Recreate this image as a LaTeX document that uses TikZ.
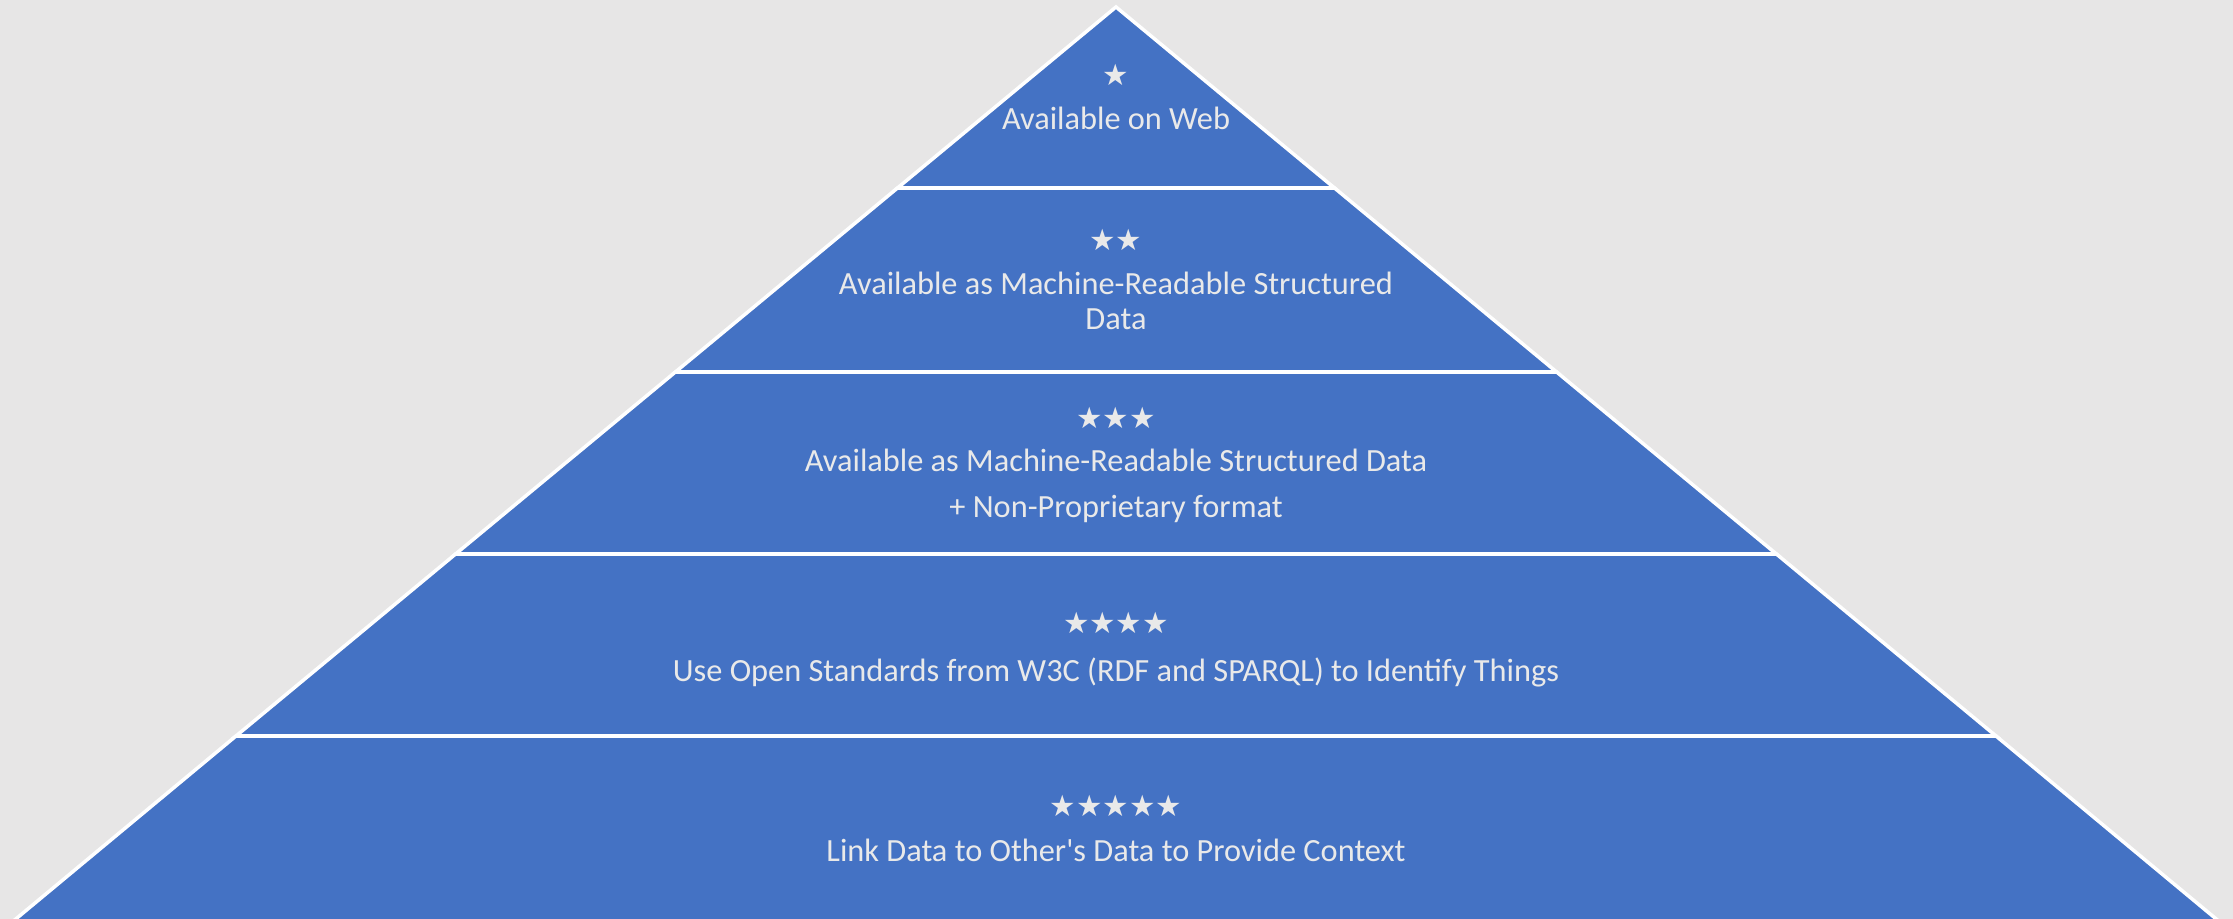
\documentclass[tikz,border=0pt]{standalone}
\usepackage{fontspec}
\newfontfamily\capfont{Carlito}
\newfontfamily\starfont{DejaVu Sans}
\usepackage{tikz}

\definecolor{bandblue}{HTML}{4472C4}
\definecolor{pagegray}{HTML}{E7E6E6}
\definecolor{textgray}{HTML}{E9E9E9}

\tikzset{
  band/.style={fill=bandblue, draw=white, line width=1pt},
  stars/.style={text=textgray, inner sep=0pt, font=\starfont\fontsize{8.4}{8}\selectfont},
  caption/.style={text=textgray, inner sep=0pt, align=center, anchor=base,
    font=\capfont\fontsize{9.2}{10}\selectfont}
}

\begin{document}
\begin{tikzpicture}[x=0.01cm, y=-0.01cm]
    \fill[pagegray] (0, 0) rectangle (2233, 919);
    \clip (0, 0) rectangle (2233, 919);
    % bands, top to bottom
    \draw[band] (1116, 7) -- (1334.5, 188) -- (897.5, 188) -- cycle;
    \draw[band] (897.5, 188) -- (1334.5, 188) -- (1556.6, 372) -- (675.4, 372) -- cycle;
    \draw[band] (675.4, 372) -- (1556.6, 372) -- (1776.4, 554) -- (455.6, 554) -- cycle;
    \draw[band] (455.6, 554) -- (1776.4, 554) -- (1996, 736) -- (236, 736) -- cycle;
    \draw[band] (236, 736) -- (1996, 736) -- (2221, 923) -- (11, 923) -- cycle;
    % stars and captions (base = last line)
    \node[stars] (s1) at (1116, 75) {★};
    \node[caption] (t1) at (1116, 130) {Available on Web};
    \node[stars] (s2) at (1116, 240) {★★};
    \node[caption] (t2) at (1116, 330) {Available as Machine-Readable Structured\\Data};
    \node[stars] (s3) at (1116, 418) {★★★};
    \node[caption] (t3) at (1116, 518) {Available as Machine-Readable Structured Data\\[3.1pt]+ Non-Proprietary format};
    \node[stars] (s4) at (1116, 623) {★★★★};
    \node[caption] (t4) at (1116, 682) {Use Open Standards from W3C (RDF and SPARQL) to Identify Things};
    \node[stars] (s5) at (1116, 806) {★★★★★};
    \node[caption] (t5) at (1116, 862) {Link Data to Other's Data to Provide Context};
\end{tikzpicture}
\end{document}
